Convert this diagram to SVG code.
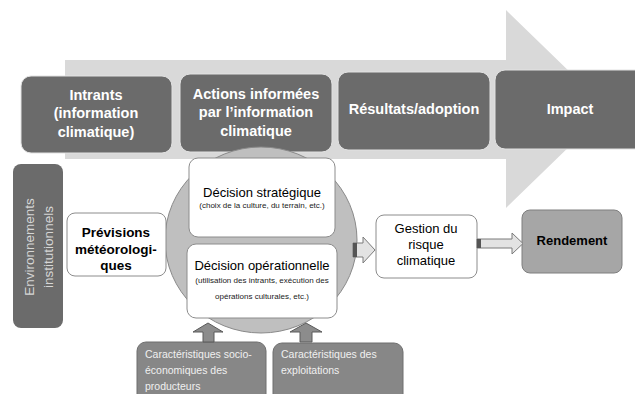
<svg xmlns="http://www.w3.org/2000/svg" width="635" height="394" viewBox="0 0 635 394">
<style>
text{font-family:"Liberation Sans",Arial,sans-serif;text-anchor:middle}
.top{fill:#6b6b6b;stroke:#e2e2e2;stroke-width:1}
.tt{fill:#ffffff;font-weight:bold;font-size:14.5px}
.wb{fill:#ffffff;stroke:#8c8c8c;stroke-width:1}
.bt{fill:#000000;font-size:13px}
.st{fill:#1a1a1a;font-size:8px}
.gb{fill:#878787;stroke:#6f6f6f;stroke-width:1}
.gt{fill:#f0f0f0;font-size:10.5px;text-anchor:start}
.ua{fill:#8c8c8c;stroke:#5a5a5a;stroke-width:1}
.ra{fill:#e3e3e3;stroke:#7a7a7a;stroke-width:1}
.pv{fill:#000000;font-size:13.5px;font-weight:bold}
</style>
<rect width="635" height="394" fill="#ffffff"/>
<g id="big-arrow">
<polygon points="65,60 506,60 506,10 608,109 506,208 506,159 65,159" fill="#d9d9d9"/>
</g>
<g id="intrants">
<rect class="top" x="21" y="76" width="151" height="77" rx="10"/>
<text class="tt" x="96" y="100">Intrants</text>
<text class="tt" x="96" y="118">(information</text>
<text class="tt" x="96" y="137">climatique)</text>
</g>
<g id="actions">
<rect class="top" x="180" y="74" width="152" height="78" rx="10"/>
<text class="tt" x="256" y="99">Actions informées</text>
<text class="tt" x="256" y="117">par l’information</text>
<text class="tt" x="256" y="136">climatique</text>
</g>
<g id="resultats">
<rect class="top" x="338" y="72" width="152" height="78" rx="10"/>
<text class="tt" x="414" y="114">Résultats/adoption</text>
</g>
<g id="impact">
<rect class="top" x="495" y="70" width="152" height="79" rx="10"/>
<text class="tt" x="570" y="114">Impact</text>
</g>
<g id="environnements">
<rect x="13" y="164" width="50" height="164" rx="8" fill="#6b6b6b"/>
<text transform="translate(34,247) rotate(-90)" x="0" y="0" fill="#d6d6d6" font-size="13.5px">Environnements</text>
<text transform="translate(53,247) rotate(-90)" x="0" y="0" fill="#d6d6d6" font-size="13.5px">institutionnels</text>
</g>
<g id="cercle">
<ellipse cx="261" cy="240" rx="96" ry="93" fill="#bfbfbf" stroke="#8a8a8a" stroke-width="1"/>
</g>
<g id="previsions">
<rect class="wb" x="67" y="213" width="99" height="63" rx="8"/>
<text class="pv" x="116" y="237">Prévisions</text>
<text class="pv" x="116" y="254">météorologi-</text>
<text class="pv" x="116" y="270">ques</text>
</g>
<g id="decision-strategique">
<rect class="wb" x="189" y="158" width="146" height="79" rx="9"/>
<text class="bt" x="262" y="197">Décision stratégique</text>
<text class="st" x="262" y="208">(choix de la culture, du terrain, etc.)</text>
</g>
<g id="decision-operationnelle">
<rect class="wb" x="187" y="244" width="150" height="74" rx="9"/>
<text class="bt" x="262" y="270" font-size="13.3px">Décision opérationnelle</text>
<text class="st" x="262" y="283">(utilisation des intrants, exécution des</text>
<text class="st" x="262" y="299">opérations culturales, etc.)</text>
</g>
<g id="gestion">
<rect class="wb" x="376" y="215" width="101" height="63" rx="8"/>
<text class="bt" x="426" y="233">Gestion du</text>
<text class="bt" x="426" y="249">risque</text>
<text class="bt" x="426" y="265">climatique</text>
</g>
<g id="rendement">
<rect x="522" y="210" width="100" height="63" rx="8" fill="#a6a6a6" stroke="#7f7f7f" stroke-width="1"/>
<text x="572" y="245" font-size="13px" font-weight="bold" fill="#000">Rendement</text>
</g>
<g id="socio">
<rect class="gb" x="137" y="342" width="129" height="70" rx="9"/>
<text class="gt" x="145" y="358">Caractéristiques socio-</text>
<text class="gt" x="145" y="374">économiques des</text>
<text class="gt" x="145" y="390">producteurs</text>
</g>
<g id="exploitations">
<rect class="gb" x="273" y="343" width="130" height="70" rx="9"/>
<text class="gt" x="281" y="358">Caractéristiques des</text>
<text class="gt" x="281" y="374">exploitations</text>
</g>
<g id="connectors">
<polygon class="ua" points="203,342 203,332 193,332 208,323 223,332 214,332 214,342"/>
<polygon class="ua" points="300,342 300,332 290,332 306,323 322,332 312,332 312,342"/>
<polygon class="ra" points="353,243 363,243 363,237 375,250 363,263 363,257 353,257"/>
<rect x="353" y="243" width="4" height="14" fill="#555"/>
<polygon class="ra" points="477,239 512,239 512,233 523,243.5 512,254 512,248 477,248"/>
<rect x="477" y="239" width="4" height="9" fill="#555"/>
</g>
</svg>
